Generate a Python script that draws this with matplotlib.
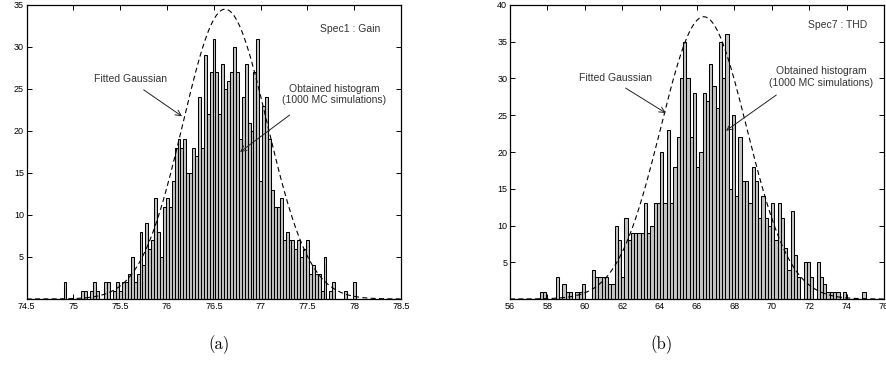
import numpy as np
import matplotlib
matplotlib.use("Agg")
import matplotlib.pyplot as plt

plt.rcParams['font.family'] = ['Liberation Sans', 'DejaVu Sans']

# ---------------- data ----------------
gain_counts = [2, 0, 0, 0, 0, 0, 1, 1, 0, 1, 2, 1, 0, 0, 2, 2, 0, 1, 2, 1,
               2, 2, 3, 5, 2, 3, 8, 4, 9, 6, 7, 12, 8, 5, 11, 12, 11, 14, 18, 19,
               18, 19, 15, 15, 18, 17, 24, 18, 29, 22, 27, 31, 27, 22, 28, 25, 26, 27, 30, 27,
               19, 24, 28, 21, 20, 27, 31, 14, 23, 24, 19, 13, 11, 11, 12, 7, 8, 7, 7, 6,
               7, 5, 6, 7, 3, 4, 3, 3, 1, 5, 0, 1, 2, 0, 0, 0, 1, 0, 0, 2]
gain_range = (74.894, 78.016)
gain_fit = dict(amp=34.5, mu=76.62, sigma=0.45)
gain_xticks = [74.5, 75, 75.5, 76, 76.5, 77, 77.5, 78, 78.5]
gain_yticks = [5, 10, 15, 20, 25, 30, 35]

thd_counts = [1, 1, 0, 0, 0, 3, 0, 2, 1, 1, 0, 1, 1, 2, 0, 0, 4, 3, 3, 3,
              3, 2, 2, 10, 8, 3, 11, 8, 9, 9, 9, 9, 13, 9, 10, 13, 13, 20, 13, 23,
              13, 18, 22, 30, 35, 30, 22, 28, 18, 20, 28, 27, 32, 29, 26, 35, 30, 36, 15, 25,
              14, 22, 16, 16, 13, 18, 16, 11, 14, 11, 10, 13, 8, 13, 11, 7, 4, 12, 6, 3,
              0, 5, 5, 3, 0, 5, 3, 2, 1, 1, 1, 1, 0, 1, 0, 0, 0, 0, 0, 1]
thd_range = (57.583, 75.017)
thd_fit = dict(amp=38.4, mu=66.36, sigma=2.3)
thd_xticks = [56, 58, 60, 62, 64, 66, 68, 70, 72, 74, 76]
thd_yticks = [5, 10, 15, 20, 25, 30, 35, 40]

W, H = 887, 381
fig = plt.figure(figsize=(W / 100, H / 100), dpi=100)


def px_axes(l, t, r, b):
    return fig.add_axes([l / W, 1 - b / H, (r - l) / W, (b - t) / H])


def draw(ax, counts, rng, fit, xlim, ylim, xticks, yticks, spec, spec_xy,
         fg_xy, fg_from, fg_to, oh_xy, oh_from, oh_to):
    counts = np.asarray(counts, float)
    n = len(counts)
    edges = np.linspace(rng[0], rng[1], n + 1)
    centers = 0.5 * (edges[:-1] + edges[1:])
    w = edges[1] - edges[0]
    ax.bar(centers, counts, width=w, align='center', color='#c4c4c4',
           edgecolor='black', linewidth=0.75, zorder=2)
    xs = np.linspace(xlim[0], xlim[1], 400)
    ys = fit['amp'] * np.exp(-0.5 * ((xs - fit['mu']) / fit['sigma']) ** 2)
    ax.plot(xs, ys, color='black', linestyle=(0, (4.5, 3)), linewidth=0.8, zorder=3)
    ax.set_xlim(*xlim)
    ax.set_ylim(*ylim)
    ax.set_xticks(xticks)
    ax.set_xticklabels([f"{t:g}" for t in xticks])
    ax.set_yticks(yticks)
    ax.tick_params(direction='in', top=True, right=True, length=3.5, width=0.7,
                   labelsize=6.5, pad=2)
    for s in ax.spines.values():
        s.set_linewidth(0.9)
    fs = 7.5
    ax.text(*spec_xy, spec, fontsize=fs, ha='center', va='center', color='#333333')
    ax.text(*fg_xy, 'Fitted Gaussian', fontsize=fs, ha='center', va='center',
            color='#333333')
    ax.annotate('', xy=fg_to, xytext=fg_from,
                arrowprops=dict(arrowstyle='->', color='#222222', lw=0.7,
                                shrinkA=0, shrinkB=0))
    ax.text(*oh_xy, 'Obtained histogram\n(1000 MC simulations)', fontsize=fs,
            ha='center', va='center', color='#333333', linespacing=1.15)
    ax.annotate('', xy=oh_to, xytext=oh_from,
                arrowprops=dict(arrowstyle='->', color='#222222', lw=0.7,
                                shrinkA=0, shrinkB=0))


ax1 = px_axes(26.7, 5, 401, 299)
draw(ax1, gain_counts, gain_range, gain_fit, (74.5, 78.5), (0, 35),
     gain_xticks, gain_yticks, 'Spec1 : Gain', (77.96, 32.1),
     (75.61, 26.2), (75.75, 24.9), (76.16, 21.75),
     (77.79, 24.3), (77.31, 21.9), (76.78, 17.5))

ax2 = px_axes(510, 5, 884, 299)
draw(ax2, thd_counts, thd_range, thd_fit, (56, 76), (0, 40),
     thd_xticks, thd_yticks, 'Spec7 : THD', (73.5, 37.3),
     (61.62, 30.0), (62.18, 28.7), (64.33, 25.3),
     (72.65, 30.2), (70.24, 27.75), (67.55, 22.9))

fig.text(219 / W, 1 - 345 / H, '(a)', fontsize=12, family='cmr10',
         ha='center', va='center')
fig.text(661 / W, 1 - 345 / H, '(b)', fontsize=12, family='cmr10',
         ha='center', va='center')

fig.savefig('out.png', dpi=100)
